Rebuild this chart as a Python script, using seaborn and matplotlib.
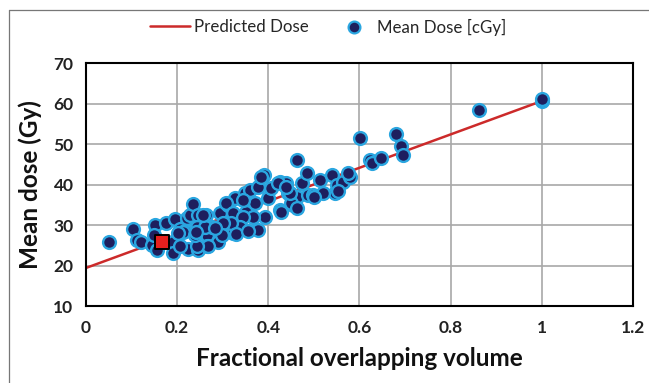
import matplotlib
matplotlib.use("Agg")
import matplotlib.pyplot as plt
import seaborn as sns
import pandas as pd
from matplotlib.lines import Line2D

# ---- data ----
overlap = [0.05, 0.104, 0.111, 0.12, 0.144, 0.151, 0.150, 0.155, 0.175, 0.195,
           0.191, 0.19, 0.206, 0.217, 0.221, 0.213, 0.228, 0.235, 0.246, 0.263,
           0.243, 0.265, 0.224, 0.206, 0.246, 0.265, 0.290, 0.276, 0.294, 0.307,
           0.312, 0.323, 0.327, 0.349, 0.360, 0.352, 0.338, 0.371, 0.378, 0.393,
           0.400, 0.407, 0.425, 0.425, 0.444, 0.455, 0.44, 0.378, 0.422, 0.367,
           0.345, 0.308, 0.323, 0.345, 0.338, 0.319, 0.301, 0.298, 0.268, 0.243,
           0.239, 0.261, 0.257, 0.283, 0.202, 0.242, 0.473, 0.462, 0.488, 0.499,
           0.513, 0.539, 0.546, 0.55, 0.564, 0.579, 0.451, 0.429, 0.447, 0.484,
           0.462, 0.601, 0.681, 0.692, 0.696, 0.623, 0.627, 0.648, 0.575, 0.462,
           0.44, 0.39, 0.385, 0.33, 0.355, 0.52, 0.50, 0.552, 0.862, 1.0, 1.0]
mean_dose = [25.8, 28.9, 26.3, 25.7, 25.1, 30.1, 27.5, 23.8, 30.6, 31.5,
             25.9, 23.0, 28.9, 28.6, 31.7, 28.3, 32.5, 35.1, 32.5, 32.5,
             29.6, 27.5, 24.2, 24.7, 23.8, 24.7, 25.9, 29.6, 32.9, 30.4,
             34.9, 28.0, 36.6, 37.8, 38.6, 33.3, 32.1, 35.4, 28.8, 32.1,
             36.6, 39.1, 33.7, 40.7, 37.8, 34.9, 40.3, 39.5, 40.3, 32.1,
             36.2, 35.4, 32.9, 32.1, 29.6, 30.4, 30.4, 27.5, 24.7, 24.7,
             27.5, 29.6, 32.5, 29.2, 28.0, 28.3, 40.3, 37.0, 37.4, 37.4,
             41.1, 42.4, 37.8, 39.9, 40.7, 41.9, 35.4, 33.3, 37.8, 42.8,
             46.0, 51.6, 52.5, 49.5, 47.3, 46.0, 45.2, 46.5, 42.8, 34.1,
             39.5, 42.3, 41.8, 27.8, 28.6, 38.0, 37.0, 38.3, 58.3, 60.5, 61.0]

line_x = [0.0, 1.0]
line_y = [19.4, 60.6]

highlight_x = [0.166]
highlight_y = [25.8]

x_ticks = [0, 0.2, 0.4, 0.6, 0.8, 1.0, 1.2]
x_tick_labels = ["0", "0.2", "0.4", "0.6", "0.8", "1", "1.2"]
y_ticks = [10, 20, 30, 40, 50, 60, 70]

# ---- figure ----
sns.set_style("white")
plt.rcParams["font.family"] = ["Lato", "DejaVu Sans"]

W, H = 649, 383
fig = plt.figure(figsize=(W / 100, H / 100), dpi=100)
ax = fig.add_axes([0.1325, 0.201, 0.8425, 0.6345])

df_pts = pd.DataFrame({"x": overlap, "y": mean_dose})
df_line = pd.DataFrame({"x": line_x, "y": line_y})
df_hi = pd.DataFrame({"x": highlight_x, "y": highlight_y})

sns.lineplot(data=df_line, x="x", y="y", ax=ax, color="#cc2a2a", linewidth=1.8,
             zorder=2, legend=False)
sns.scatterplot(data=df_pts, x="x", y="y", ax=ax, s=85, color="#1e1f5e",
                edgecolor="#2aa6e0", linewidth=1.7, zorder=3, legend=False)
sns.scatterplot(data=df_hi, x="x", y="y", ax=ax, s=115, marker="s",
                color="#e8201e", edgecolor="black", linewidth=1.4, zorder=4,
                legend=False)

ax.set_xlim(0, 1.2)
ax.set_ylim(10, 70)
ax.set_xticks(x_ticks)
ax.set_xticklabels(x_tick_labels)
ax.set_yticks(y_ticks)
ax.grid(True, color="#a8a8a8", linewidth=1.2)
ax.set_axisbelow(True)
for sp in ax.spines.values():
    sp.set_color("black")
    sp.set_linewidth(1.5)
    sp.set_visible(True)
ax.tick_params(axis="x", length=0, pad=10, labelsize=12.5)
ax.tick_params(axis="y", length=0, pad=9, labelsize=12.5)
for lbl in ax.get_xticklabels() + ax.get_yticklabels():
    lbl.set_fontweight("bold")
    lbl.set_color("#222222")

ax.set_xlabel("Fractional overlapping volume", fontsize=17.5, fontweight="bold",
              labelpad=8, color="#111111")
ax.set_ylabel("Mean dose (Gy)", fontsize=17.5, fontweight="bold",
              labelpad=8, color="#111111")

h_line = Line2D([0], [0], color="#cc2a2a", linewidth=1.8, label="Predicted Dose")
h_pts = Line2D([0], [0], linestyle="none", marker="o", markersize=8.5,
               markerfacecolor="#1e1f5e", markeredgecolor="#2aa6e0",
               markeredgewidth=1.6, label="Mean Dose [cGy]")
leg_y = 1 - 27 / H
fig.legend(handles=[h_line], loc="center left", bbox_to_anchor=(150 / W, leg_y),
           frameon=False, fontsize=12.2, handlelength=2.36, handletextpad=0.25,
           borderpad=0, borderaxespad=0)
fig.legend(handles=[h_pts], loc="center left", bbox_to_anchor=(344 / W, leg_y),
           frameon=False, fontsize=12.2, handlelength=1.2, handletextpad=0.77,
           borderpad=0, borderaxespad=0)

# figure border (left and top)
fig.add_artist(Line2D([9 / W, 9 / W], [0, 1 - 10 / H],
                      transform=fig.transFigure, color="#777777", linewidth=0.9))
fig.add_artist(Line2D([9 / W, 1], [1 - 10 / H, 1 - 10 / H],
                      transform=fig.transFigure, color="#777777", linewidth=0.9))

fig.savefig("out.png", dpi=100)
